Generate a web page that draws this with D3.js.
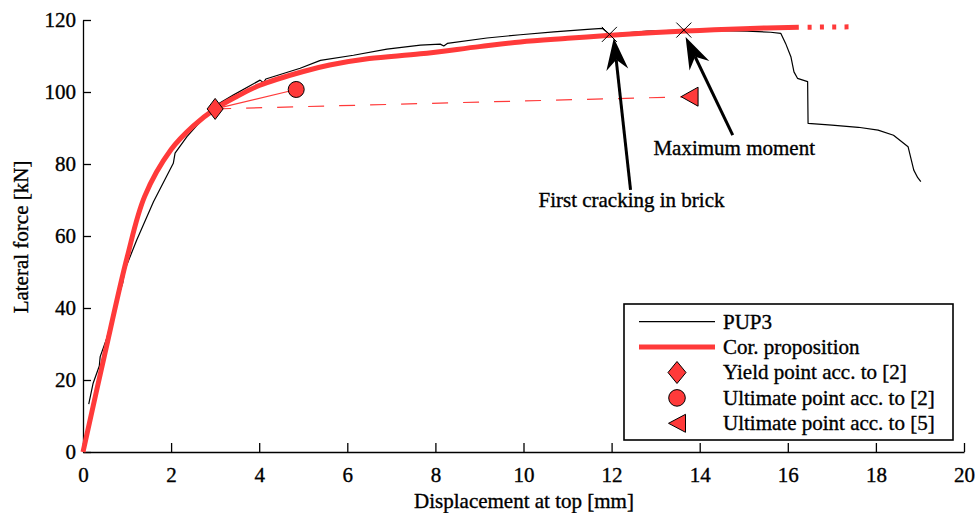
<!DOCTYPE html>
<html>
<head>
<meta charset="utf-8">
<script src="https://cdn.jsdelivr.net/npm/d3@7/dist/d3.min.js"></script>
<style>
    body { margin: 0; background: #fff; }
    svg text { font-family: "Liberation Serif", "Times New Roman", serif; fill: #000; stroke: #000; stroke-width: 0.35px; }
</style>
</head>
<body>
<div id="chart" style="width:978px;height:513px"><svg></svg></div>
<script>
// 试验曲线 PUP3
let pup3_x = [0.13, 0.23, 0.37, 0.39, 0.54, 0.73, 0.9, 0.95, 1.1, 1.22, 1.6, 2.05, 2.09, 2.36, 2.96, 3.42, 4.02, 4.1, 4.15, 4.93, 5.39, 6.14, 6.9, 7.66, 8.11, 8.19, 8.27, 9.17, 9.93, 10.69, 11.45, 11.79, 11.95, 12.81, 13.64, 15.08, 15.61, 15.84, 15.95, 16.07, 16.14, 16.22, 16.45, 16.46, 17.0, 17.6, 18.05, 18.4, 18.73, 18.86, 18.95, 19.02];
let pup3_y = [13.3, 19.1, 23.9, 26.5, 31.6, 40.4, 46.9, 50.6, 55.2, 58.9, 69.5, 80.2, 83, 87.6, 95.9, 99.2, 103.3, 102.6, 103.6, 106.6, 108.8, 110.2, 111.9, 113, 113.3, 112.8, 113.5, 115, 115.9, 116.7, 117.4, 117.7, 116, 116.9, 117.2, 116.9, 116.6, 116.3, 113.5, 109.8, 105.6, 103.8, 102.9, 91.3, 90.8, 90.2, 89.4, 88, 84.8, 78.3, 76.2, 75.1];

// 修正建议曲线
let cor_x = [0, 0.5, 1.0, 1.4, 2.0, 2.5, 3.0, 3.5, 4.0, 5.0, 5.6, 6.5, 7.66, 9, 9.93, 11, 11.9, 13, 14, 15, 16.25];
let cor_y = [0, 27.5, 54, 71, 84, 90.5, 95.3, 98.8, 101.8, 105.7, 107.5, 109.3, 110.6, 112.6, 113.9, 114.9, 115.7, 116.5, 117.1, 117.6, 118];
let cor_ext_x = [16.25, 17.45];   // 虚点延长
let cor_ext_y = [118, 118.1];

// 特征点
let yield_pt = [3.0, 95.3];
let ult2_pt = [4.84, 100.7];
let ult5_pt = [13.77, 98.7];
let cross_x = [11.95, 13.64];
let cross_y = [116, 117.2];

// 标注
let note_text = ["First cracking in brick", "Maximum moment"];
let note_pos = [[10.34, 68], [12.95, 82.5]];
let arrow_tail = [[12.43, 72.8], [14.75, 88]];
let arrow_tip = [[12.05, 115], [13.68, 115.3]];

let x_ticks = [0, 2, 4, 6, 8, 10, 12, 14, 16, 18, 20];
let y_ticks = [0, 20, 40, 60, 80, 100, 120];
let legend_names = ["PUP3", "Cor. proposition", "Yield point acc. to [2]", "Ultimate point acc. to [2]", "Ultimate point acc. to [5]"];

const red = "#ff3a3a";

let svg = d3.select('#chart').select('svg')
    .attr('width', 978)
    .attr('height', 513);

let x = d3.scaleLinear().domain([0, 20]).range([83, 964]);
let y = d3.scaleLinear().domain([0, 120]).range([452, 20]);

// 坐标轴，刻度朝内
svg.append("g")
    .attr("transform", "translate(0,452)")
    .call(d3.axisBottom(x).tickValues(x_ticks).tickSize(-9).tickSizeOuter(0).tickPadding(15))
    .call(g => g.selectAll("text").style("font-size", "21px"));
svg.append("g")
    .attr("transform", "translate(83,0)")
    .call(d3.axisLeft(y).tickValues(y_ticks).tickSize(-8).tickSizeOuter(0).tickPadding(7))
    .call(g => g.selectAll("text").style("font-size", "21px"));
svg.selectAll(".domain, .tick line").attr("stroke", "#000").attr("stroke-width", 1.3);
svg.selectAll(".tick text").attr("font-family", null);

svg.append("text")
    .attr("x", 524).attr("y", 508)
    .attr("text-anchor", "middle")
    .style("font-size", "21px")
    .text("Displacement at top [mm]");
svg.append("text")
    .attr("transform", "translate(28,237) rotate(-90)")
    .attr("text-anchor", "middle")
    .style("font-size", "21px")
    .text("Lateral force [kN]");

let line = d3.line().x(d => x(d[0])).y(d => y(d[1]));

// 特征点连线
svg.append("path")
    .attr("d", line([yield_pt, ult5_pt]))
    .attr("fill", "none").attr("stroke", red).attr("stroke-width", 1.2)
    .attr("stroke-dasharray", "16,15");
svg.append("path")
    .attr("d", line([yield_pt, ult2_pt]))
    .attr("fill", "none").attr("stroke", red).attr("stroke-width", 1.2);

// PUP3
svg.append("path")
    .attr("d", line(d3.zip(pup3_x, pup3_y)))
    .attr("fill", "none").attr("stroke", "#000").attr("stroke-width", 1.2)
    .attr("stroke-linejoin", "round");

// 修正建议
let smooth = d3.line().x(d => x(d[0])).y(d => y(d[1])).curve(d3.curveCatmullRom.alpha(0.5));
svg.append("path")
    .attr("d", smooth(d3.zip(cor_x, cor_y)))
    .attr("fill", "none").attr("stroke", red).attr("stroke-width", 5);
svg.append("path")
    .attr("d", line([[cor_ext_x[0] + 0.2, cor_ext_y[0]], [cor_ext_x[1], cor_ext_y[1]]]))
    .attr("fill", "none").attr("stroke", red).attr("stroke-width", 5)
    .attr("stroke-dasharray", "4,8.3");

// 标记符号
function diamond(g, cx, cy, w, h) {
    g.append("path")
        .attr("d", `M${cx},${cy - h}L${cx + w},${cy}L${cx},${cy + h}L${cx - w},${cy}Z`)
        .attr("fill", red).attr("stroke", "#000").attr("stroke-width", 1);
}
function circle(g, cx, cy, r) {
    g.append("circle").attr("cx", cx).attr("cy", cy).attr("r", r)
        .attr("fill", red).attr("stroke", "#000").attr("stroke-width", 1);
}
function tri_left(g, cx, cy, w, h) {
    g.append("path")
        .attr("d", `M${cx - w / 2},${cy}L${cx + w / 2},${cy - h / 2}L${cx + w / 2},${cy + h / 2}Z`)
        .attr("fill", red).attr("stroke", "#000").attr("stroke-width", 1);
}

diamond(svg, x(yield_pt[0]), y(yield_pt[1]), 8, 10.5);
circle(svg, x(ult2_pt[0]), y(ult2_pt[1]), 8);
tri_left(svg, x(ult5_pt[0]), y(ult5_pt[1]), 17, 19);

// 叉号
cross_x.forEach((cx, i) => {
    let px = x(cx), py = y(cross_y[i]), s = 7.5;
    svg.append("path")
        .attr("d", `M${px - s},${py - s}L${px + s},${py + s}M${px - s},${py + s}L${px + s},${py - s}`)
        .attr("stroke", "#000").attr("stroke-width", 1);
});

// 箭头和文字
note_text.forEach((t, i) => {
    let x0 = x(arrow_tail[i][0]), y0 = y(arrow_tail[i][1]);
    let x1 = x(arrow_tip[i][0]), y1 = y(arrow_tip[i][1]);
    let len = Math.hypot(x1 - x0, y1 - y0);
    let ux = (x1 - x0) / len, uy = (y1 - y0) / len;
    let nx = -uy, ny = ux;
    let L = 32, W = 11, notch = 22;
    svg.append("line")
        .attr("x1", x0).attr("y1", y0)
        .attr("x2", x1 - notch * ux).attr("y2", y1 - notch * uy)
        .attr("stroke", "#000").attr("stroke-width", 3);
    let pts = [
        [x1, y1],
        [x1 - L * ux + W * nx, y1 - L * uy + W * ny],
        [x1 - notch * ux, y1 - notch * uy],
        [x1 - L * ux - W * nx, y1 - L * uy - W * ny]
    ];
    svg.append("path")
        .attr("d", "M" + pts.join("L") + "Z")
        .attr("fill", "#000");
    svg.append("text")
        .attr("x", x(note_pos[i][0])).attr("y", y(note_pos[i][1]))
        .style("font-size", "21px")
        .text(t);
});

// 图例
let lg = svg.append("g");
lg.append("rect")
    .attr("x", 624).attr("y", 304).attr("width", 329).attr("height", 136)
    .attr("fill", "#fff").attr("stroke", "#000").attr("stroke-width", 1.6);
legend_names.forEach((name, i) => {
    let cy = 321.7 + i * 25.4;
    if (i == 0) {
        lg.append("line").attr("x1", 639).attr("x2", 715).attr("y1", cy).attr("y2", cy)
            .attr("stroke", "#000").attr("stroke-width", 1.2);
    } else if (i == 1) {
        lg.append("line").attr("x1", 639).attr("x2", 715).attr("y1", cy).attr("y2", cy)
            .attr("stroke", red).attr("stroke-width", 5);
    } else if (i == 2) {
        diamond(lg, 677, cy, 9, 11);
    } else if (i == 3) {
        circle(lg, 677, cy, 8.3);
    } else {
        tri_left(lg, 677, cy, 17, 18);
    }
    lg.append("text")
        .attr("x", 723).attr("y", cy + 6.8)
        .style("font-size", "21px")
        .text(name);
});
</script>
</body>
</html>
